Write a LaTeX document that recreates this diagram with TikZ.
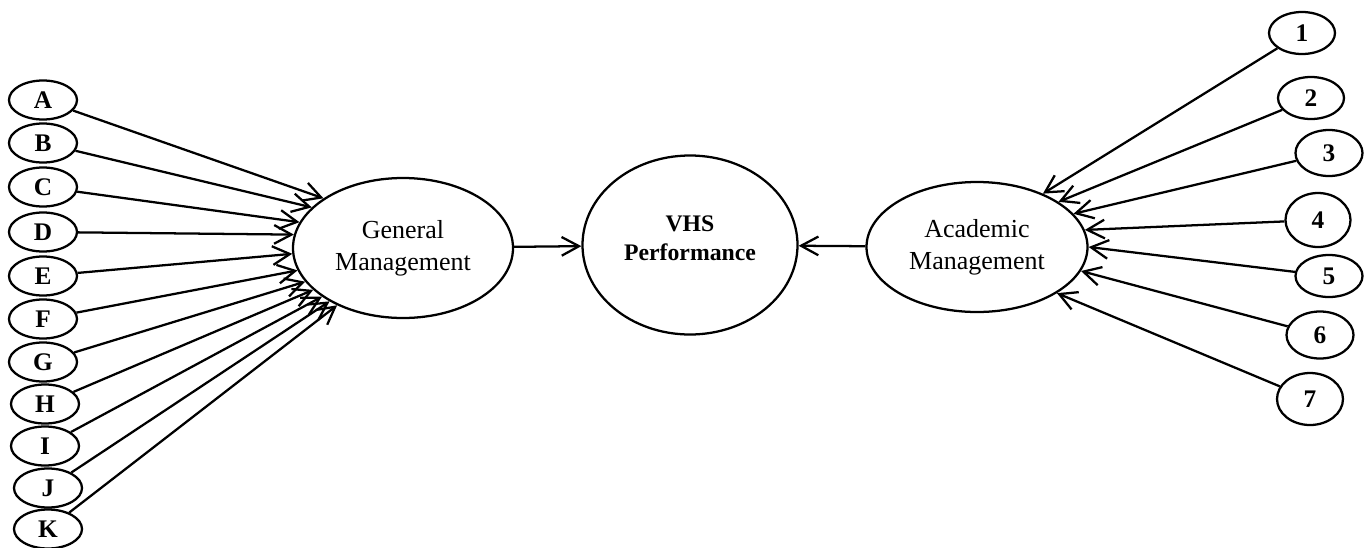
\documentclass[tikz,border=0pt]{standalone}
\usepackage{fontspec}
\setmainfont{Liberation Serif}
\usetikzlibrary{shapes.geometric,arrows.meta}
\tikzset{
  oval/.style={draw, ellipse, inner sep=0pt, line width=1.7pt},
  item/.style={oval, minimum width={68*0.75pt}, minimum height={39*0.75pt}, font=\bfseries\fontsize{19}{20}\selectfont},
  num/.style={oval, font=\bfseries\fontsize{19}{20}\selectfont},
  big/.style={oval, align=center, font=\fontsize{19.5}{24}\selectfont},
  lbl/.style={align=center, inner sep=0pt, font=\bfseries\fontsize{17.8}{22}\selectfont},
  link/.style={draw, line width=1.7pt, -{Straight Barb[length=13pt,width=14pt,line width=1.7pt]}}
}
\begin{document}
\begin{tikzpicture}[x=0.75pt,y=-0.75pt]
\useasboundingbox (0,0) rectangle (1371,547);
% central nodes
\node[big, minimum width={220*0.75pt}, minimum height={140*0.75pt}] (gm) at (403,248) {General\\Management};
\node[oval, minimum width={215*0.75pt}, minimum height={179*0.75pt}] (vhs) at (690,245) {};
\node[lbl] (vhstext) at (690,238) {VHS\\Performance};
\node[big, minimum width={221*0.75pt}, minimum height={130*0.75pt}] (am) at (977,247) {Academic\\Management};
% left items
\node[item] (A) at (43,100) {A};
\node[item] (B) at (43,143) {B};
\node[item] (C) at (43,187) {C};
\node[item] (D) at (43,232) {D};
\node[item] (E) at (43,276) {E};
\node[item] (F) at (43,319) {F};
\node[item] (G) at (43,362) {G};
\node[item] (H) at (45,404) {H};
\node[item] (I) at (45,446) {I};
\node[item] (J) at (48,488) {J};
\node[item] (K) at (48,529) {K};
% right items
\node[num, minimum width={66*0.75pt}, minimum height={42*0.75pt}] (n1) at (1302,33) {1};
\node[num, minimum width={66*0.75pt}, minimum height={42*0.75pt}] (n2) at (1311,98) {2};
\node[num, minimum width={67*0.75pt}, minimum height={46*0.75pt}] (n3) at (1329,153) {3};
\node[num, minimum width={65*0.75pt}, minimum height={54*0.75pt}] (n4) at (1318,220) {4};
\node[num, minimum width={67*0.75pt}, minimum height={42*0.75pt}] (n5) at (1329,276) {5};
\node[num, minimum width={67*0.75pt}, minimum height={47*0.75pt}] (n6) at (1320,335) {6};
\node[num, minimum width={66*0.75pt}, minimum height={52*0.75pt}] (n7) at (1310,399) {7};
% left connectors
\draw[link] (A) -- (gm.148);
\draw[link] (B) -- (gm.156);
\draw[link] (C) -- (gm.166);
\draw[link] (D) -- (gm.173);
\draw[link] (E) -- (gm.183);
\draw[link] (F) -- (gm.192);
\draw[link] (G) -- (gm.199);
\draw[link] (H) -- (gm.205);
\draw[link] (I) -- (gm.211);
\draw[link] (J) -- (gm.216);
\draw[link] (K) -- (gm.221);
% right connectors
\draw[link] (n1) -- (am.39);
\draw[link] (n2) -- (am.29);
\draw[link] (n3) -- (am.19);
\draw[link] (n4) -- (am.9);
\draw[link] (n5) -- (am.0);
\draw[link] (n6) -- (am.-13);
\draw[link] (n7) -- (am.-30);
% centre
\draw[link] (gm) -- (vhs);
\draw[link] (am) -- (vhs);
\end{tikzpicture}
\end{document}
